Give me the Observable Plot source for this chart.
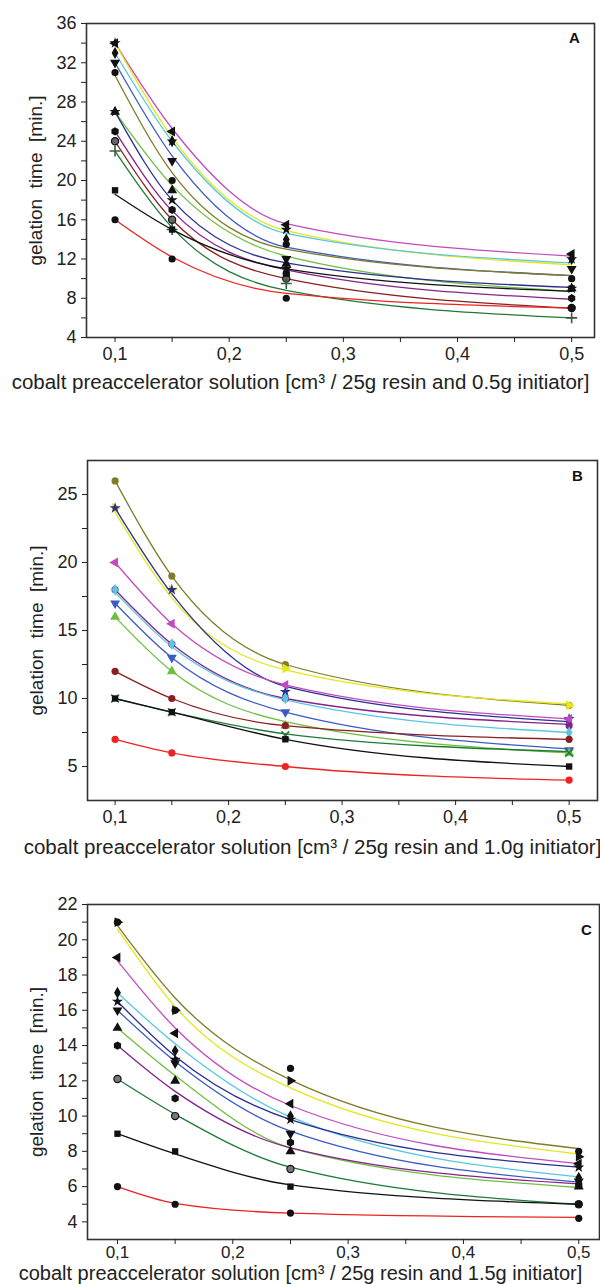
<!DOCTYPE html>
<html><head><meta charset="utf-8">
<script src="https://cdn.jsdelivr.net/npm/d3@7"></script>
<script src="https://cdn.jsdelivr.net/npm/@observablehq/plot@0.6"></script>
<style>
body{margin:0;background:#fff;}
#chart svg{display:block;}
</style></head><body><div id="chart"></div>
<script>
// shared x values and tick labels
const doses = [0.1, 0.15, 0.25, 0.5];
const xTicks = [0.1, 0.15, 0.2, 0.25, 0.3, 0.35, 0.4, 0.45, 0.5];
const xTickLabels = [0.1, 0.2, 0.3, 0.4, 0.5];
const yTitle = "gelation\u00a0 time\u00a0 [min.]";

// ---------- Panel A (0.5 g initiator) ----------
const seriesA = ["magenta","yellow","cyan","blue","olive","lightgreen","navy","purple","maroon","darkgreen","black","red"];
const colorsA = ["#c04bbf","#e6e61a","#55c8e0","#3b5bc4","#7f7b2a","#6dbf3f","#2b2f8f","#86238a","#8b1f1f","#1f7a35","#111111","#ee2222"];
const symbolsA = ["triangle","star","diamond","triangle","circle","triangle","star","hexagon","circle","plus","square","circle"];
const rotateA = [-90,0,0,180,0,0,0,0,0,0,0,0];
const markFillA = ["#111","#111","#111","#111","#111","#111","#111","#111","#666","#3d5a3d","#111","#111"];
const marksA = [
  [34, 25, 15.5, 12.5],
  [34, 24, 15, 12],
  [33, 24, 14, 12],
  [32, 22, 12, 11],
  [31, 20, 13.5, 10],
  [27, 19, 11.5, 9],
  [27, 18, 11, 9],
  [25, 17, 10.5, 8],
  [24, 16, 10, 7],
  [23, 15, 9.5, 6],
  [19, 15, 10.5, 9],
  [16, 12, 8, 7]
];
const fitsA = [
  [34, 25.3, 15.6, 12.3],
  [34, 24.4, 14.9, 11.4],
  [33, 24.0, 14.6, 11.6],
  [32, 22.5, 13.2, 10.3],
  [30.7, 20.8, 13.0, 10.3],
  [27, 19.5, 12.3, 8.7],
  [27, 18.0, 11.6, 9.1],
  [25, 16.9, 10.9, 7.9],
  [24, 16.0, 10.0, 7.0],
  [23, 15.2, 8.8, 6.0],
  [18.6, 15.0, 11.0, 8.7],
  [16, 12.2, 8.5, 7.0]
];
const yTicksA = [4,6,8,10,12,14,16,18,20,22,24,26,28,30,32,34,36];
const yLabelsA = [4,8,12,16,20,24,28,32,36];

// ---------- Panel B (1.0 g initiator) ----------
const seriesB = ["olive","yellow","navy","magenta","purple","cyan","blue","lightgreen","maroon","darkgreen","black","red"];
const colorsB = ["#7f7b2a","#e6e61a","#2b2f8f","#c04bbf","#86238a","#55c8e0","#3b5bc4","#6dbf3f","#8b1f1f","#1f7a35","#111111","#ee2222"];
const symbolsB = ["circle","triangle","star","triangle","circle","diamond","triangle","triangle","circle","times","square","circle"];
const rotateB = [0,90,0,-90,0,0,180,0,0,0,0,0];
const markFillB = ["#807c28","#e6e61a","#2b2f8f","#c04bbf","#86238a","#55c8e0","#3b5bc4","#6dbf3f","#8b1f1f","#1f7a35","#111111","#ee2222"];
const marksB = [
  [26, 19, 12.5, 9.5],
  [24, 18, 12.2, 9.5],
  [24, 18, 10.5, 8.5],
  [20, 15.5, 11, 8.5],
  [18, 14, 10, 8],
  [18, 14, 10, 7.5],
  [17, 13, 9, 6.2],
  [16, 12, 8, 6],
  [12, 10, 8, 7],
  [10, 9, 7.3, 6],
  [10, 9, 7, 5],
  [7, 6, 5, 4]
];
const fitsB = [
  [26, 19, 12.5, 9.5],
  [23.7, 17.4, 12.1, 9.6],
  [24, 17.7, 10.9, 8.3],
  [20, 15.5, 11, 8.5],
  [18, 14, 10, 8.1],
  [17.8, 13.8, 9.9, 7.5],
  [17, 13, 9, 6.3],
  [16, 12, 8.3, 6.0],
  [12, 10, 8, 7],
  [10, 9, 7.4, 6.1],
  [10, 9, 7, 5],
  [7, 6, 5, 4]
];
const yTicksB = [5,7.5,10,12.5,15,17.5,20,22.5,25];
const yLabelsB = [5,10,15,20,25];

// ---------- Panel C (1.5 g initiator) ----------
const seriesC = ["olive","yellow","magenta","cyan","navy","blue","lightgreen","purple","darkgreen","black","red"];
const colorsC = ["#7f7b2a","#e6e61a","#c04bbf","#55c8e0","#2b2f8f","#3b5bc4","#6dbf3f","#86238a","#1f7a35","#111111","#ee2222"];
const symbolsC = ["circle","triangle","triangle","diamond","star","triangle","triangle","hexagon","circle","square","circle"];
const rotateC = [0,90,-90,0,0,180,0,0,0,0,0];
const markFillC = ["#111","#111","#111","#111","#111","#111","#111","#111","#777","#111","#111"];
const marksC = [
  [21, 16, 12.7, 8],
  [21, 16, 12, 7.7],
  [19, 14.7, 10.7, 7.3],
  [17, 13.7, 10, 6.5],
  [16.5, 13.2, 9.8, 7.1],
  [16, 13, 9, 6.3],
  [15, 12, 8, 6.0],
  [14, 11, 8.5, 6.1],
  [12.1, 10, 7, 5],
  [9, 8, 6, 5],
  [6, 5, 4.5, 4.2]
];
const fitsC = [
  [20.8, 16.7, 12.05, 8.15],
  [20.6, 16.2, 11.6, 7.85],
  [18.8, 15.0, 10.6, 7.3],
  [17.0, 14.1, 9.95, 6.55],
  [16.5, 13.4, 9.8, 7.1],
  [16.0, 13.1, 9.15, 6.25],
  [15.0, 12.3, 8.2, 5.95],
  [14.0, 11.4, 8.2, 6.15],
  [12.1, 10.1, 7.1, 5.0],
  [9.0, 7.85, 6.1, 5.0],
  [6.0, 5.05, 4.5, 4.25]
];
const yTicksC = [4,5,6,7,8,9,10,11,12,13,14,15,16,17,18,19,20,21,22];
const yLabelsC = [4,6,8,10,12,14,16,18,20,22];

const fontFamily = "'Liberation Sans', Arial, Helvetica, sans-serif";

function drawPanel(cfg) {
  const marks = [];
  cfg.series.forEach((name, s) => {
    const rows = doses.map((x, i) => ({x, y: cfg.fits[s][i]}));
    marks.push(Plot.line(rows, {x: "x", y: "y", stroke: cfg.colors[s], strokeWidth: 1.3, curve: "monotone-x"}));
  });
  cfg.series.forEach((name, s) => {
    const rows = doses.map((x, i) => ({x, y: cfg.marks[s][i]}));
    const sym = cfg.symbols[s];
    const strokeOnly = sym === "plus" || sym === "times";
    marks.push(Plot.dot(rows, {
      x: "x", y: "y", symbol: sym, rotate: cfg.rotates[s],
      r: sym === "star" ? 3.5 : (sym === "triangle" ? 3.7 : 3.6),
      fill: strokeOnly ? "none" : cfg.markFill[s],
      stroke: strokeOnly ? cfg.markFill[s] : (cfg.markFill[s] === "#666" || cfg.markFill[s] === "#777" ? "#111" : "none"),
      strokeWidth: strokeOnly ? 1.6 : 1.2
    }));
  });
  marks.push(Plot.frame({stroke: "#333", strokeWidth: 1.6}));
  marks.push(Plot.axisY(cfg.yTicks, {
    tickSize: 5, tickPadding: 5, label: null, fontSize: 18,
    tickFormat: d => cfg.yLabels.includes(d) ? String(d) : ""
  }));
  marks.push(Plot.axisX(xTicks, {
    tickSize: 5, tickPadding: cfg.xTickPad, label: null, fontSize: cfg.xTickFont,
    tickFormat: d => xTickLabels.includes(d) ? d.toFixed(1).replace(".", ",") : ""
  }));
  marks.push(Plot.text([cfg.xLabel], {text: d => d, frameAnchor: "bottom", textAnchor: "middle", lineAnchor: "middle", dy: cfg.xLabelDy, dx: cfg.xLabelDx, fontSize: cfg.xLabelFont, fill: "#222"}));
  marks.push(Plot.text([yTitle], {text: d => d, frameAnchor: "left", textAnchor: "middle", lineAnchor: "middle", dx: -51, rotate: -90, fontSize: 19, fill: "#222"}));
  marks.push(Plot.text([cfg.letter], {text: d => d, frameAnchor: "top-right", textAnchor: "middle", lineAnchor: "middle", dx: cfg.letterDx, dy: cfg.letterDy, fontSize: 15, fontWeight: "bold", fill: "#111"}));

  return Plot.plot({
    width: 600, height: cfg.height,
    marginTop: cfg.mt, marginBottom: cfg.mb, marginLeft: cfg.ml, marginRight: cfg.mr,
    x: {domain: cfg.xDomain},
    y: {domain: cfg.yDomain},
    style: {fontFamily, fontSize: "18px", color: "#222", background: "white", overflow: "visible"},
    marks
  });
}

const chart = document.getElementById("chart");
chart.append(drawPanel({
  series: seriesA, colors: colorsA, symbols: symbolsA, rotates: rotateA, markFill: markFillA,
  marks: marksA, fits: fitsA, yTicks: yTicksA, yLabels: yLabelsA,
  height: 420, mt: 23, mb: 83, ml: 86, mr: 6, xDomain: [0.075, 0.52], yDomain: [4, 36],
  xTickPad: 5, xTickFont: 18, xLabelFont: 20.5,
  xLabel: "cobalt preaccelerator solution [cm\u00b3 / 25g resin and 0.5g initiator]",
  xLabelDy: 45, xLabelDx: -40, letter: "A", letterDx: -20, letterDy: 15
}));
chart.append(drawPanel({
  series: seriesB, colors: colorsB, symbols: symbolsB, rotates: rotateB, markFill: markFillB,
  marks: marksB, fits: fitsB, yTicks: yTicksB, yLabels: yLabelsB,
  height: 440, mt: 40, mb: 60, ml: 87, mr: 3, xDomain: [0.0757, 0.525], yDomain: [2.5, 27.5],
  xTickPad: 5, xTickFont: 18, xLabelFont: 20.5,
  xLabel: "cobalt preaccelerator solution [cm\u00b3 / 25g resin and 1.0g initiator]",
  xLabelDy: 47, xLabelDx: -30, letter: "B", letterDx: -20, letterDy: 16
}));
chart.append(drawPanel({
  series: seriesC, colors: colorsC, symbols: symbolsC, rotates: rotateC, markFill: markFillC,
  marks: marksC, fits: fitsC, yTicks: yTicksC, yLabels: yLabelsC,
  height: 424, mt: 44, mb: 45, ml: 87, mr: 1, xDomain: [0.074, 0.518], yDomain: [3, 22],
  xTickPad: 1, xTickFont: 17, xLabelFont: 20,
  xLabel: "cobalt preaccelerator solution [cm\u00b3 / 25g resin and 1.5g initiator]",
  xLabelDy: 34, xLabelDx: -43, letter: "C", letterDx: -13, letterDy: 26
}));
</script>
</body></html>
